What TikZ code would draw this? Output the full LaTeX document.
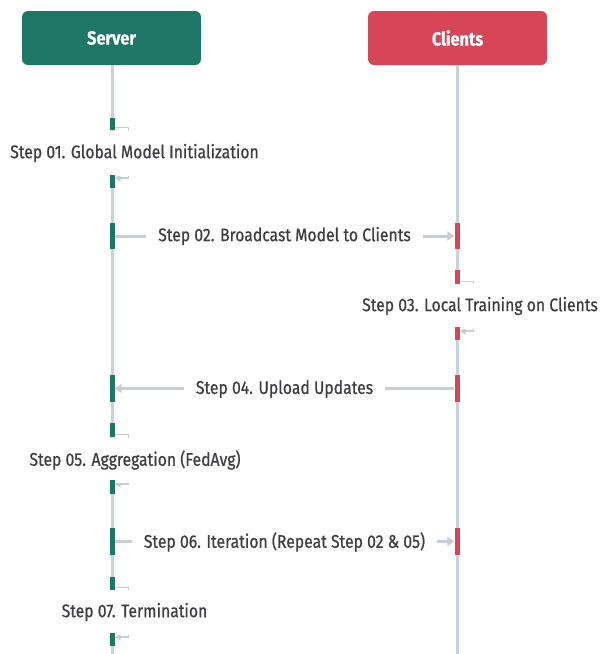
\documentclass[tikz,border=0pt]{standalone}
\usepackage{fontspec}
\setmainfont{Fira Sans}[FakeStretch=0.86, FakeBold=0.6]
\usetikzlibrary{arrows.meta}

\definecolor{srvgreen}{RGB}{30,118,100}
\definecolor{clired}{RGB}{214,70,88}
\definecolor{lifegray}{RGB}{200,210,222}
\definecolor{msggray}{RGB}{200,206,214}
\definecolor{txtgray}{RGB}{62,62,66}

\tikzset{
  actor/.style={rounded corners=6pt, minimum width=179pt, minimum height=54pt,
    text=white, font=\fontsize{19}{22}\selectfont\bfseries, inner sep=0pt},
  lifeline/.style={draw=lifegray, line width=3pt},
  srvbar/.style={fill=srvgreen, minimum width=5pt, inner sep=0pt},
  clibar/.style={fill=clired, minimum width=5pt, inner sep=0pt},
  msg/.style={draw=msggray, line width=3pt, -{Triangle[length=7pt,width=9pt]}},
  selfmsg/.style={draw=msggray, line width=1.5pt, -{Triangle[length=6pt,width=7pt]}},
  steplabel/.style={fill=white, text=txtgray, font=\fontsize{18.3}{21}\selectfont,
    inner xsep=12pt, inner ysep=12pt},
  selflabel/.style={steplabel, minimum height=45pt}
}

\begin{document}
\begin{tikzpicture}[x=1pt,y=-1pt]
\useasboundingbox (0,0) rectangle (602,654);

% participants
\node[actor, fill=srvgreen] (server) at (111.5,38) {Server};
\node[actor, fill=clired] (clients) at (457.5,38) {Clients};

% lifelines
\coordinate (srvend) at (112,654);
\coordinate (cliend) at (457,654);
\draw[lifeline] (server.south -| srvend) -- (srvend);
\draw[lifeline] (clients.south -| cliend) -- (cliend);

% step 01: self message on the server
\node[srvbar, minimum height=12pt] (s1a) at (112,124) {};
\node[srvbar, minimum height=13pt] (s1b) at (112,181.5) {};
\draw[selfmsg] (s1a.east |- 0,127.5) -- ++(14,0) |- (s1b.east |- 0,178);
\node[selflabel] (l1) at (134.5,153) {Step 01. Global Model Initialization};
\node[srvbar, minimum height=12pt] at (s1a) {};
\node[srvbar, minimum height=13pt] at (s1b) {};

% step 02: broadcast to clients
\node[srvbar, minimum height=26pt] (s2a) at (112,236) {};
\node[clibar, minimum height=26pt] (s2b) at (457,236) {};
\draw[msg] (s2a.east) -- (s2b.west);
\node[steplabel] (l2) at (284.5,236) {Step 02. Broadcast Model to Clients};

% step 03: self message on the clients
\node[clibar, minimum height=14pt] (s3a) at (457,277) {};
\node[clibar, minimum height=13pt] (s3b) at (457,333.5) {};
\draw[selfmsg] (s3a.east |- 0,281.5) -- ++(14,0) |- (s3b.east |- 0,331);
\node[selflabel] (l3) at (480,306) {Step 03. Local Training on Clients};
\node[clibar, minimum height=14pt] at (s3a) {};
\node[clibar, minimum height=13pt] at (s3b) {};

% step 04: upload to server
\node[srvbar, minimum height=27pt] (s4a) at (112,388.5) {};
\node[clibar, minimum height=27pt] (s4b) at (457,388.5) {};
\draw[msg] (s4b.west) -- (s4a.east);
\node[steplabel] (l4) at (284.5,389) {Step 04. Upload Updates};

% step 05: self message on the server
\node[srvbar, minimum height=14pt] (s5a) at (112,430) {};
\node[srvbar, minimum height=14pt] (s5b) at (112,487) {};
\draw[selfmsg] (s5a.east |- 0,434.5) -- ++(14,0) |- (s5b.east |- 0,484);
\node[selflabel] (l5) at (135,460) {Step 05. Aggregation (FedAvg)};
\node[srvbar, minimum height=14pt] at (s5a) {};
\node[srvbar, minimum height=14pt] at (s5b) {};

% step 06: iteration
\node[srvbar, minimum height=27pt] (s6a) at (112,541.5) {};
\node[clibar, minimum height=27pt] (s6b) at (457,541.5) {};
\draw[msg] (s6a.east) -- (s6b.west);
\node[steplabel] (l6) at (284.5,542) {Step 06. Iteration (Repeat Step 02 \& 05)};

% step 07: self message on the server
\node[srvbar, minimum height=13pt] (s7a) at (112,583.5) {};
\node[srvbar, minimum height=13pt] (s7b) at (112,639.5) {};
\draw[selfmsg] (s7a.east |- 0,587.5) -- ++(14,0) |- (s7b.east |- 0,637);
\node[selflabel] (l7) at (134.5,612) {Step 07. Termination};
\node[srvbar, minimum height=13pt] at (s7a) {};
\node[srvbar, minimum height=13pt] at (s7b) {};
\end{tikzpicture}
\end{document}
